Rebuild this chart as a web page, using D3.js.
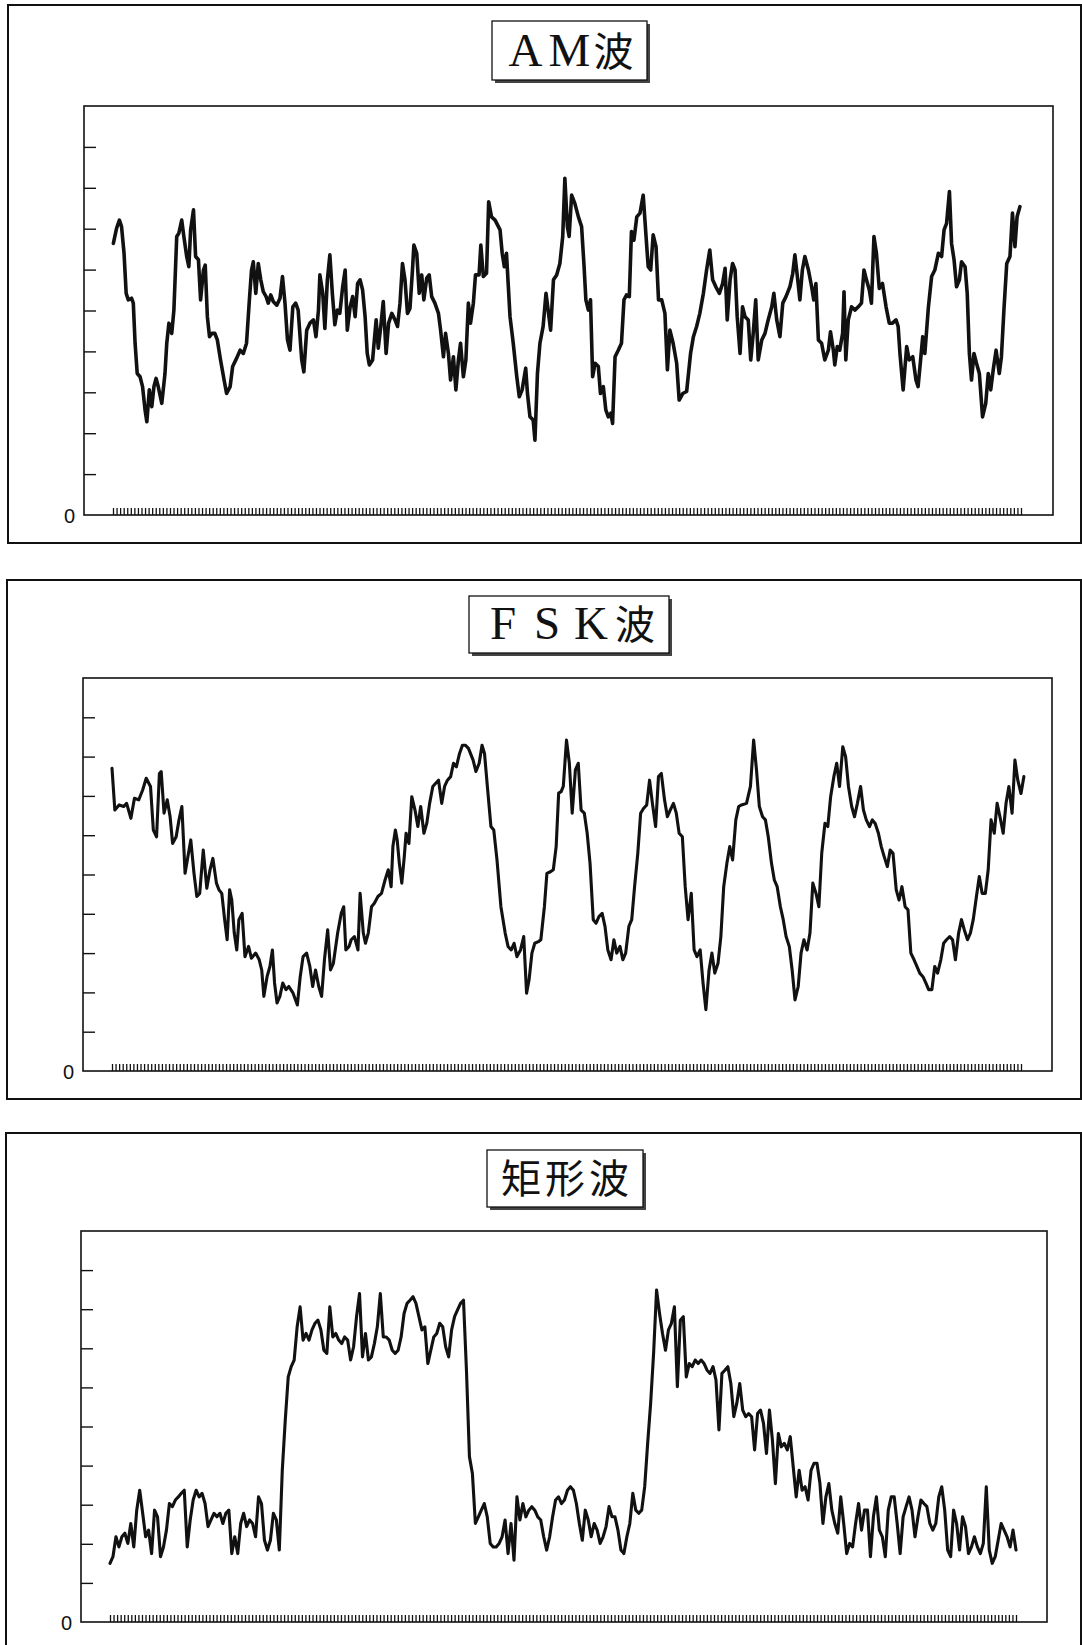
<!DOCTYPE html>
<html>
<head>
<meta charset="utf-8">
<script src="https://cdn.jsdelivr.net/npm/d3@7"></script>
<style>
  body { margin: 0; background: #fff; }
  svg { display: block; }
</style>
</head>
<body>
<svg id="fig"></svg>
<script>
// Waveform readings: [sample, level], level axis 0..10 (only "0" labelled)
var amWave = [[0.1,6.64],[1.0,7.01],[1.8,7.21],[2.4,7.05],[3.1,6.40],[3.7,5.42],[4.3,5.26],[5.2,5.30],[5.7,5.18],[6.2,4.20],[6.8,3.46],[7.6,3.38],[8.3,3.14],[9.0,2.57],[9.5,2.28],[10.2,3.06],[10.9,2.65],[11.5,3.14],[12.1,3.34],[12.7,3.14],[13.7,2.73],[14.6,3.46],[15.1,4.20],[15.7,4.69],[16.5,4.44],[17.1,5.01],[17.9,6.81],[18.5,6.89],[19.3,7.21],[19.9,6.81],[20.7,6.32],[21.3,6.07],[21.8,6.97],[22.6,7.46],[23.2,6.32],[24.0,6.24],[24.6,5.26],[25.4,5.99],[25.9,6.11],[26.5,4.85],[27.1,4.36],[27.8,4.44],[28.6,4.44],[29.3,4.28],[30.2,3.79],[31.2,3.30],[31.9,2.97],[32.9,3.14],[33.6,3.63],[34.7,3.83],[35.7,4.03],[36.6,3.95],[37.5,4.20],[38.3,5.26],[38.9,5.99],[39.4,6.19],[40.1,5.42],[40.8,6.15],[41.5,5.75],[42.2,5.46],[43.0,5.34],[43.6,5.18],[44.3,5.38],[45.0,5.22],[46.0,5.13],[46.9,5.30],[47.6,5.83],[48.3,5.18],[49.0,4.28],[49.7,4.03],[50.5,5.09],[51.3,5.18],[52.0,5.01],[53.0,3.79],[53.6,3.50],[54.4,4.52],[55.3,4.69],[56.3,4.77],[57.0,4.36],[57.7,5.01],[58.1,5.87],[58.9,5.42],[59.5,4.56],[60.2,5.75],[60.9,6.36],[61.6,5.42],[62.3,4.65],[63.0,5.01],[63.7,4.93],[64.5,5.58],[65.2,5.99],[65.8,4.52],[66.6,5.09],[67.3,5.34],[68.0,4.85],[68.7,5.66],[69.4,5.75],[70.1,5.50],[70.8,4.85],[71.4,3.95],[72.0,3.67],[72.9,3.79],[73.9,4.77],[74.5,4.08],[75.2,4.61],[75.9,5.22],[76.7,3.95],[77.4,4.69],[78.3,4.93],[79.2,4.77],[79.9,4.61],[80.6,5.18],[81.3,6.15],[82.0,5.75],[82.7,4.93],[83.4,5.05],[84.1,5.99],[84.5,6.60],[85.3,6.40],[86.0,5.42],[86.7,5.87],[87.3,5.26],[88.1,5.79],[88.8,5.87],[89.5,5.34],[90.4,5.18],[91.4,4.93],[92.0,4.52],[92.8,3.87],[93.4,4.44],[94.2,3.95],[94.8,3.30],[95.6,3.87],[96.3,3.06],[97.0,3.79],[97.6,4.20],[98.4,3.38],[99.1,3.79],[99.8,5.18],[100.4,4.69],[101.2,5.18],[101.8,5.87],[102.8,5.87],[103.3,6.60],[104.0,5.83],[104.9,5.91],[105.5,7.66],[106.3,7.29],[107.3,7.21],[108.7,6.97],[109.3,6.40],[109.9,6.07],[110.5,6.40],[111.5,4.85],[112.4,4.20],[113.4,3.38],[114.1,2.89],[114.9,3.06],[115.9,3.59],[116.4,2.97],[117.1,2.40],[118.0,2.32],[118.5,1.83],[119.2,3.46],[119.9,4.20],[120.8,4.61],[121.6,5.42],[122.2,5.01],[122.9,4.52],[123.7,5.75],[124.6,5.87],[125.5,6.15],[126.3,6.81],[126.9,8.23],[127.6,7.05],[128.1,6.81],[128.8,7.82],[129.7,7.62],[130.7,7.29],[131.6,7.05],[132.3,6.07],[132.8,5.26],[133.5,5.01],[134.1,5.26],[134.7,3.38],[135.4,3.71],[136.3,3.63],[136.9,2.97],[137.7,3.14],[138.4,2.57],[139.1,2.40],[139.8,2.49],[140.3,2.24],[141.0,3.87],[141.9,4.03],[142.8,4.20],[143.5,5.26],[144.2,5.38],[145.0,5.34],[145.6,6.93],[146.3,6.72],[147.1,7.29],[148.0,7.38],[148.9,7.82],[149.7,6.81],[150.3,6.07],[151.0,5.99],[151.7,6.85],[152.5,6.56],[153.2,5.26],[154.1,5.26],[155.0,4.93],[155.7,3.55],[156.4,4.52],[157.3,4.20],[158.3,3.71],[159.0,2.81],[160.0,2.97],[161.1,3.02],[162.2,3.95],[163.0,4.36],[163.9,4.61],[164.8,4.93],[165.8,5.42],[166.7,5.99],[167.6,6.48],[168.4,5.75],[169.3,5.58],[170.3,5.42],[171.2,5.66],[171.9,6.03],[172.5,4.77],[173.3,5.75],[174.0,6.15],[174.7,5.99],[175.3,4.85],[176.1,3.95],[176.8,5.09],[177.5,4.85],[178.4,4.77],[179.1,3.79],[179.8,4.44],[180.5,5.26],[181.2,3.79],[182.2,4.28],[183.1,4.44],[184.0,4.77],[185.0,5.09],[185.6,5.42],[186.4,4.77],[187.3,4.36],[188.1,5.18],[189.0,5.34],[190.1,5.58],[190.9,5.91],[191.5,6.36],[192.3,5.75],[192.9,5.26],[193.6,5.99],[194.3,6.32],[195.3,5.99],[196.2,5.58],[196.8,5.26],[197.4,5.66],[198.1,4.28],[199.0,4.20],[199.9,3.79],[200.9,4.03],[201.5,4.48],[202.3,4.03],[202.7,3.67],[203.4,4.12],[204.1,4.03],[204.9,4.44],[205.3,5.46],[205.8,3.79],[206.5,4.77],[207.4,5.09],[208.4,5.01],[209.3,5.09],[210.2,5.18],[210.9,5.99],[211.6,5.75],[212.4,5.50],[213.0,5.18],[213.7,6.81],[214.4,6.40],[215.2,5.54],[216.1,5.66],[217.1,5.09],[218.0,4.69],[218.9,4.69],[219.9,4.77],[220.5,4.61],[221.0,3.95],[221.9,3.06],[222.9,4.12],[223.6,3.79],[224.6,3.87],[225.5,3.30],[226.1,3.14],[226.8,3.79],[227.4,4.36],[228.0,3.95],[229.0,5.09],[229.9,5.83],[230.8,5.99],[231.8,6.40],[232.7,6.32],[233.4,6.97],[234.1,7.13],[234.9,7.91],[235.5,6.64],[236.2,6.24],[236.9,5.58],[237.7,5.75],[238.3,6.19],[239.3,6.07],[239.9,5.42],[240.5,3.95],[241.1,3.30],[241.8,3.95],[242.5,3.71],[243.3,3.46],[244.2,2.40],[245.1,2.73],[245.8,3.46],[246.5,3.06],[247.2,3.55],[248.0,4.03],[248.9,3.46],[249.5,3.87],[250.2,5.01],[251.0,6.15],[251.9,6.32],[252.6,7.38],[253.3,6.56],[253.9,7.29],[254.7,7.54]];

var fskWave = [[0.0,7.70],[0.8,6.64],[2.0,6.77],[3.3,6.73],[4.1,6.81],[5.3,6.43],[6.3,6.94],[7.5,6.90],[8.6,7.15],[9.6,7.45],[10.8,7.24],[11.6,6.13],[12.5,5.96],[13.3,7.57],[13.8,7.62],[14.6,6.56],[15.5,6.90],[16.3,6.47],[17.0,5.79],[18.0,5.96],[18.8,6.39],[19.6,6.73],[20.5,5.03],[21.3,5.46],[22.1,5.88],[23.0,5.03],[23.8,4.44],[24.6,4.52],[25.6,5.62],[26.6,4.65],[27.5,5.12],[28.3,5.41],[29.3,4.78],[30.0,4.61],[30.8,4.52],[31.6,3.85],[32.3,3.34],[33.0,4.61],[33.6,4.35],[34.3,3.51],[35.0,3.08],[35.6,3.85],[36.5,4.01],[37.3,2.91],[38.3,3.17],[39.1,2.87],[40.3,3.00],[41.3,2.83],[42.0,2.57],[42.6,1.90],[43.5,2.40],[44.3,2.66],[45.0,3.08],[45.6,2.24],[46.3,1.73],[47.1,1.90],[47.9,2.24],[48.8,2.07],[49.6,2.15],[50.8,1.98],[52.0,1.68],[52.8,2.40],[53.6,2.91],[54.6,3.00],[55.5,2.66],[56.3,2.15],[57.1,2.57],[58.0,2.15],[58.8,1.90],[59.6,2.83],[60.5,3.59],[61.3,2.57],[62.1,2.74],[63.3,3.51],[64.3,4.01],[65.0,4.18],[65.6,3.08],[66.5,3.17],[67.1,3.34],[68.0,3.42],[69.0,3.08],[69.6,4.52],[70.5,3.51],[71.1,3.25],[71.9,3.51],[72.8,4.18],[73.6,4.27],[74.6,4.44],[75.6,4.52],[76.6,4.86],[77.5,5.12],[78.3,4.69],[78.8,5.71],[79.5,6.13],[80.0,5.88],[80.6,5.29],[81.3,4.78],[82.0,5.46],[82.5,6.05],[83.3,5.79],[84.1,6.98],[85.0,6.64],[85.8,6.22],[86.6,6.73],[87.5,6.05],[88.3,6.30],[89.1,6.81],[90.0,7.24],[90.8,7.32],[91.6,7.40],[92.5,6.81],[93.3,7.24],[94.1,7.40],[95.0,7.49],[95.8,7.83],[96.6,7.74],[97.5,8.08],[98.3,8.29],[99.1,8.29],[100.0,8.21],[101.3,7.91],[102.1,7.62],[103.0,7.83],[103.8,8.29],[104.5,8.08],[105.3,7.24],[106.3,6.22],[107.1,6.13],[108.0,5.37],[109.1,4.18],[110.3,3.51],[111.1,3.17],[112.0,3.08],[112.8,3.25],[113.6,2.91],[114.6,3.08],[115.5,3.42],[116.3,1.98],[117.0,2.32],[117.8,3.00],[118.6,3.25],[119.6,3.29],[120.3,3.34],[121.3,4.18],[122.0,5.03],[123.0,5.07],[123.8,5.12],[124.6,5.71],[125.3,7.07],[126.0,7.11],[126.6,7.24],[127.5,8.42],[128.3,7.83],[129.1,6.56],[130.0,7.66],[130.8,7.83],[131.6,6.64],[132.5,6.56],[133.3,6.05],[134.1,5.29],[135.0,3.85],[135.8,3.76],[136.6,3.93],[137.5,4.01],[138.3,3.68],[139.1,3.08],[140.0,2.83],[140.8,3.34],[141.6,3.00],[142.5,3.17],[143.3,2.83],[144.1,3.00],[145.0,3.68],[145.8,3.85],[146.6,4.69],[147.5,5.54],[148.3,6.56],[149.1,6.68],[150.0,6.77],[150.8,7.40],[151.6,6.81],[152.5,6.22],[153.3,7.49],[154.1,7.57],[155.0,6.90],[155.8,6.47],[156.6,6.64],[157.5,6.81],[158.3,6.56],[159.1,6.05],[160.0,5.96],[160.8,4.69],[161.6,3.85],[162.5,4.52],[163.3,3.08],[164.1,2.91],[165.0,3.08],[165.8,2.24],[166.6,1.56],[167.5,2.57],[168.3,3.00],[169.1,2.49],[170.0,2.74],[170.8,3.42],[171.6,4.69],[172.5,5.29],[173.3,5.71],[174.1,5.37],[175.0,6.39],[175.8,6.73],[176.6,6.77],[178.0,6.81],[179.1,7.24],[180.0,8.42],[180.8,7.66],[181.6,6.73],[182.5,6.47],[183.3,6.39],[184.1,5.96],[185.0,5.29],[185.8,4.86],[186.6,4.69],[187.5,4.18],[188.3,3.85],[189.1,3.42],[190.0,3.17],[190.8,2.57],[191.6,1.81],[192.5,2.15],[193.3,3.00],[194.1,3.34],[195.0,3.08],[195.8,3.51],[196.6,4.78],[197.5,4.52],[198.3,4.18],[199.1,5.54],[200.0,6.30],[200.8,6.22],[201.6,6.98],[202.5,7.49],[203.3,7.83],[204.1,7.24],[205.0,8.25],[205.8,8.00],[206.6,7.24],[207.5,6.73],[208.3,6.47],[209.1,6.81],[210.0,7.24],[210.8,6.64],[211.6,6.39],[212.5,6.22],[213.3,6.39],[214.1,6.30],[215.0,6.05],[215.8,5.71],[216.6,5.46],[217.5,5.20],[218.3,5.62],[219.1,5.54],[220.0,4.61],[220.8,4.35],[221.6,4.69],[222.5,4.18],[223.3,4.10],[224.1,3.00],[225.0,2.83],[225.8,2.66],[226.6,2.49],[227.5,2.40],[228.3,2.24],[229.1,2.07],[230.0,2.07],[230.8,2.66],[231.6,2.49],[232.5,2.83],[233.3,3.25],[234.1,3.34],[235.0,3.42],[235.8,3.34],[236.6,2.83],[237.5,3.51],[238.3,3.85],[239.1,3.59],[240.0,3.34],[240.8,3.51],[241.6,3.85],[242.5,4.44],[243.3,4.95],[244.1,4.52],[245.0,4.52],[245.8,5.12],[246.6,6.39],[247.5,6.05],[248.3,6.81],[249.1,6.47],[250.0,6.05],[250.8,6.81],[251.6,7.24],[252.5,6.56],[253.3,7.91],[254.1,7.40],[255.0,7.06],[255.8,7.49]];

// rectangular wave, read at an even step along the trace
var rectLevels = [1.50,1.67,2.18,1.92,2.18,2.27,2.01,2.52,1.92,2.86,3.37,2.78,2.18,2.35,1.75,2.86,2.69,1.67,1.92,2.35,3.03,2.95,3.12,3.20,3.29,3.37,1.92,2.61,3.12,3.37,3.20,3.29,3.03,2.44,2.61,2.78,2.69,2.78,2.52,2.78,2.86,1.75,2.18,1.75,2.52,2.78,2.44,2.61,2.52,2.18,3.20,3.03,2.09,1.84,2.09,2.78,2.61,1.84,3.88,5.16,6.27,6.53,6.70,7.55,8.06,7.21,7.38,7.21,7.47,7.64,7.72,7.47,6.95,6.87,8.06,7.29,7.38,7.21,7.12,7.29,7.21,6.70,7.04,7.81,8.40,6.78,7.38,6.70,6.78,7.12,7.55,8.40,7.29,7.29,7.21,6.95,6.87,6.95,7.29,7.89,8.15,8.23,8.32,8.15,7.81,7.47,7.55,6.61,6.95,7.29,7.38,7.64,7.55,7.04,6.78,7.47,7.81,7.98,8.15,8.23,6.44,4.23,3.80,2.52,2.69,2.86,3.03,2.69,2.01,1.92,1.92,2.01,2.18,2.61,1.75,2.52,1.58,3.20,2.61,3.03,2.69,2.86,2.95,2.86,2.69,2.61,2.18,1.84,2.18,2.69,3.12,3.20,3.03,3.12,3.37,3.46,3.37,3.03,2.52,2.09,2.86,2.61,2.18,2.52,2.35,2.01,2.18,2.44,2.95,2.69,2.69,2.35,1.84,1.75,2.18,2.52,3.29,2.86,2.78,2.86,3.46,4.57,5.59,6.87,8.49,7.89,7.38,6.95,7.47,7.64,8.06,6.02,7.72,7.81,6.27,6.61,6.53,6.70,6.61,6.70,6.61,6.44,6.36,6.53,6.19,4.91,6.36,6.44,6.53,6.10,5.25,5.59,6.10,5.42,5.25,5.33,5.25,4.40,5.33,5.42,5.08,4.31,5.42,4.65,3.54,4.82,4.48,4.57,4.40,4.74,3.97,3.20,3.88,3.37,3.46,3.12,3.88,4.06,4.06,3.54,2.52,3.20,3.54,2.86,2.52,2.27,3.20,2.52,1.75,2.01,1.92,2.52,3.03,2.35,2.86,2.86,1.67,2.69,3.20,2.35,2.18,1.67,2.86,3.20,3.20,2.52,1.75,2.69,2.95,3.20,2.86,2.18,2.69,3.12,3.03,2.95,2.52,2.35,2.52,3.20,3.46,2.86,1.84,1.67,2.86,2.52,1.84,2.69,2.44,1.75,1.92,2.18,1.92,1.75,2.01,3.46,1.84,1.50,1.67,2.09,2.52,2.35,2.18,1.92,2.35,1.84];

var panelTitles = ["AM波", "FSK波", "矩形波"];
var levelTicks = d3.range(1, 10);   // unlabelled ticks 1..9
var sampleTicks = d3.range(0, 256); // one tick per sample

var svg = d3.select("#fig")
    .attr("width", 1082)
    .attr("height", 1645);

// layout of the three stacked figures
var panels = [
    {title: panelTitles[0], data: amWave, frame: [8, 5, 1073, 538], plot: [84, 106, 1053, 515],
        xr: [113, 1021], tbox: [492, 21, 155, 59], lw: 3.6},
    {title: panelTitles[1], data: fskWave, frame: [7, 580, 1074, 519], plot: [83, 678, 1052, 1071],
        xr: [112, 1021], tbox: [469, 596, 200, 57], lw: 3.1},
    {title: panelTitles[2], data: rectLevels, frame: [6, 1133, 1075, 560], plot: [81, 1231, 1047, 1622],
        xr: [110, 1016], tbox: [487, 1150, 156, 57], lw: 3.1}
];

panels.forEach(function(p, k) {
    var g = svg.append("g").attr("class", "panel" + k);

    // outer frame
    g.append("rect")
        .attr("x", p.frame[0]).attr("y", p.frame[1])
        .attr("width", p.frame[2]).attr("height", p.frame[3])
        .attr("fill", "none").attr("stroke", "#111").attr("stroke-width", 2);

    // title box with shadow
    var tb = p.tbox;
    g.append("rect")
        .attr("x", tb[0] + 3).attr("y", tb[1] + 3)
        .attr("width", tb[2]).attr("height", tb[3])
        .attr("fill", "#444");
    g.append("rect")
        .attr("x", tb[0]).attr("y", tb[1])
        .attr("width", tb[2]).attr("height", tb[3])
        .attr("fill", "#fff").attr("stroke", "#111").attr("stroke-width", 1.3);

    var chars = Array.from(p.title);
    var cx = tb[0] + tb[2] / 2;
    var cell = 44;
    g.append("text")
        .attr("y", tb[1] + tb[3] - 14)
        .style("font-family", "'Liberation Serif', 'Noto Sans CJK JP', serif")
        .attr("fill", "#111")
        .selectAll("tspan")
        .data(chars)
        .enter()
        .append("tspan")
        .attr("x", (c, i) => cx + (i - (chars.length - 1) / 2) * cell)
        .attr("text-anchor", "middle")
        .style("font-size", c => c.charCodeAt(0) > 0x2e80 ? "40px" : "47px")
        .text(c => c);

    // scales
    var x = d3.scaleLinear().domain([0, 255]).range(p.xr);
    var y = d3.scaleLinear().domain([0, 10]).range([p.plot[3], p.plot[1]]);

    // plot frame
    g.append("rect")
        .attr("x", p.plot[0]).attr("y", p.plot[1])
        .attr("width", p.plot[2] - p.plot[0]).attr("height", p.plot[3] - p.plot[1])
        .attr("fill", "none").attr("stroke", "#111").attr("stroke-width", 1.6);

    // y ticks (inward, no labels)
    var yAxis = g.append("g")
        .attr("transform", "translate(" + p.plot[0] + ",0)")
        .call(d3.axisRight(y).tickValues(levelTicks).tickSize(12).tickFormat(""));
    yAxis.select(".domain").remove();
    yAxis.selectAll("line").attr("stroke", "#111").attr("stroke-width", 1.4);

    // comb of sample ticks on the baseline
    var xAxis = g.append("g")
        .attr("transform", "translate(0," + p.plot[3] + ")")
        .call(d3.axisTop(x).tickValues(sampleTicks).tickSize(7).tickFormat(""));
    xAxis.select(".domain").remove();
    xAxis.selectAll("line").attr("stroke", "#111").attr("stroke-width", 1.3);

    // zero label
    g.append("text")
        .attr("x", p.plot[0] - 9)
        .attr("y", p.plot[3] + 8)
        .attr("text-anchor", "end")
        .style("font-family", "'Liberation Sans', Arial, sans-serif")
        .style("font-size", "20px")
        .attr("fill", "#111")
        .text("0");

    // waveform
    var line;
    if (k === 2) {
        var xi = d3.scaleLinear().domain([0, p.data.length - 1]).range(p.xr);
        line = d3.line().x((d, i) => xi(i)).y(d => y(d));
    } else {
        line = d3.line().x(d => x(d[0])).y(d => y(d[1]));
    }
    g.append("path")
        .datum(p.data)
        .attr("d", line)
        .attr("fill", "none")
        .attr("stroke", "#111")
        .attr("stroke-width", p.lw)
        .attr("stroke-linejoin", "round")
        .attr("stroke-linecap", "round");
});
</script>
</body>
</html>
